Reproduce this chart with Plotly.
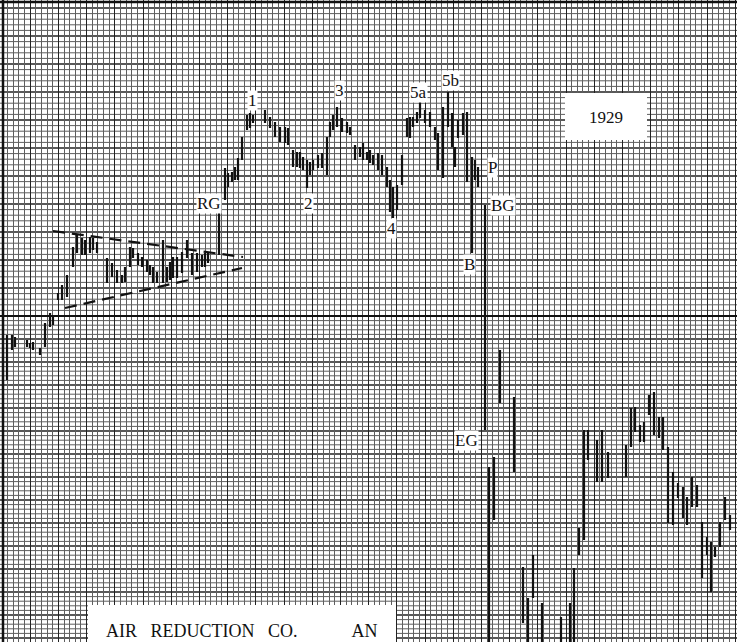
import plotly.graph_objects as go

# ---- data (x = day position on the sheet, values = height on the sheet's scale) ----
bar_x = [7, 12, 15, 27, 30, 33, 40, 45, 50, 53, 58, 62, 67, 73, 77, 82, 85, 90, 93, 97,
         107, 112, 117, 122, 125, 130, 133, 138, 142, 147, 150, 153, 157, 163, 167, 170, 173, 177,
         182, 187, 192, 197, 202, 205, 208, 219, 225, 228, 232, 235, 238, 242, 247, 250, 253,
         265, 270, 275, 280, 285, 288, 293, 297, 300, 303, 307, 310, 313, 318, 322, 327, 330,
         333, 337, 342, 347, 350, 355, 360, 363, 367, 370, 373, 378, 382, 387, 390, 393, 397,
         402, 407, 410, 413, 417, 420, 425, 430, 435, 438, 443, 448, 452, 455, 458, 463, 467,
         472, 475, 478, 485, 489, 494, 500, 514, 523, 528, 533, 542, 561, 570, 574, 579, 584,
         588, 597, 602, 608, 626, 631, 635, 640, 644, 649, 654, 659, 663, 668, 673, 678, 683,
         687, 692, 697, 702, 707, 711, 715, 720, 725, 730]
bar_high = [307, 307, 305, 302, 299, 300, 294, 319, 329, 327, 349, 357, 367, 395, 407, 404, 402, 405, 404, 400,
            384, 379, 372, 367, 375, 395, 394, 389, 385, 382, 377, 375, 370, 402, 375, 380, 385, 385,
            390, 402, 389, 389, 387, 389, 389, 429, 474, 469, 470, 475, 484, 505, 527, 529, 527,
            532, 525, 520, 515, 515, 514, 492, 490, 490, 485, 482, 480, 482, 487, 489, 505, 520,
            527, 535, 524, 520, 515, 497, 495, 499, 490, 492, 487, 489, 487, 475, 462, 455, 457,
            487, 524, 525, 525, 530, 540, 532, 530, 515, 509, 535, 550, 529, 495, 522, 529, 530,
            485, 482, 475, 437, 175, 185, 292, 245, 75, 44, 87, 39, 25, 39, 74, 114, 212,
            212, 202, 212, 190, 197, 234, 235, 217, 220, 247, 250, 225, 225, 195, 170, 159, 155,
            145, 165, 157, 120, 105, 100, 95, 120, 145, 127]
bar_low = [262, 292, 295, 295, 294, 292, 287, 295, 315, 317, 342, 342, 345, 375, 389, 387, 387, 389, 392, 389,
           359, 365, 359, 359, 360, 375, 384, 377, 375, 370, 367, 359, 359, 359, 360, 362, 364, 364,
           369, 384, 367, 370, 375, 375, 379, 387, 442, 455, 460, 462, 462, 482, 512, 514, 519,
           519, 514, 505, 500, 499, 497, 475, 475, 474, 472, 454, 467, 472, 474, 474, 467, 505,
           512, 515, 510, 509, 507, 482, 485, 482, 482, 479, 477, 472, 467, 455, 430, 424, 432,
           457, 505, 504, 515, 519, 524, 519, 515, 502, 472, 464, 515, 495, 475, 504, 507, 460,
           389, 462, 455, 212, -3, 122, 239, 170, 19, -3, 44, -3, -3, -3, -3, 87, 102,
           182, 160, 160, 164, 165, 195, 210, 200, 200, 227, 207, 204, 192, 119, 117, 144, 124,
           117, 135, 135, 64, 87, 50, 85, 95, 122, 112]

# triangle (dashed) trend lines
tri_upper_x = [53, 243]
tri_upper_y = [411, 385]
tri_lower_x = [65, 242]
tri_lower_y = [334, 374]

# wave labels
label_text = ["1", "2", "3", "4", "5a", "5b", "RG", "P", "BG", "B", "EG"]
label_x = [252, 308, 339, 391, 418, 450, 209, 492, 503, 469, 466]
label_y = [542, 439, 552, 414, 550, 562, 439, 475, 437, 378, 202]

year_text = "1929"
sp = "\u00a0"
title_text = "AIR" + sp * 3 + "REDUCTION" + sp * 3 + "CO." + sp * 12 + "AN"

# ---- figure ----
X0, X1, Y0, Y1 = 0, 737, 0, 642
FINE = "#5e5e5e"
HEAVY = "#222"
fig = go.Figure()

# grid paper: horizontal rules (sheet scale changes at the heavy rule)
SPLIT = 326
shapes = []
v = SPLIT
k = 0
while v < 641:
    heavy = (k % 5 == 0)
    shapes.append(dict(type="line", xref="paper", yref="y", x0=0, x1=1, y0=v, y1=v,
                       line=dict(color=HEAVY if heavy else FINE, width=1.4 if heavy else 1),
                       layer="below"))
    v += 5.6
    k += 1
v = SPLIT
k = 0
while v > -2:
    heavy = (k % 5 == 0)
    shapes.append(dict(type="line", xref="paper", yref="y", x0=0, x1=1, y0=v, y1=v,
                       line=dict(color=HEAVY if heavy else FINE, width=1.4 if heavy else 1),
                       layer="below"))
    v -= 4.6
    k += 1
# heavy rules
for hv, w in [(SPLIT, 2.2), (640, 2.5)]:
    shapes.append(dict(type="line", xref="paper", yref="y", x0=0, x1=1, y0=hv, y1=hv,
                       line=dict(color="#111", width=w)))
shapes.append(dict(type="line", xref="x", yref="paper", x0=3, x1=3, y0=0, y1=1,
                   line=dict(color="#111", width=2.5)))
# white label boxes
shapes.append(dict(type="rect", xref="x", yref="y", x0=565, x1=647, y0=502, y1=549,
                   fillcolor="white", line=dict(width=0)))
shapes.append(dict(type="rect", xref="x", yref="y", x0=88, x1=396, y0=-5, y1=37,
                   fillcolor="white", line=dict(width=0)))

# price bars
bx, by = [], []
for x, h, l in zip(bar_x, bar_high, bar_low):
    bx += [x, x, None]
    by += [l, h, None]
fig.add_trace(go.Scatter(x=bx, y=by, mode="lines", line=dict(color="#111", width=2.2),
                         hoverinfo="skip", showlegend=False))

for tx, ty in [(tri_upper_x, tri_upper_y), (tri_lower_x, tri_lower_y)]:
    fig.add_trace(go.Scatter(x=tx, y=ty, mode="lines",
                             line=dict(color="#111", width=2.2, dash="12px,7px"),
                             hoverinfo="skip", showlegend=False))

annotations = []
for t, x, y in zip(label_text, label_x, label_y):
    annotations.append(dict(x=x, y=y, text=t, showarrow=False, xref="x", yref="y",
                            font=dict(family="Liberation Serif", size=17, color="#111"),
                            bgcolor="white", borderpad=0))
annotations.append(dict(x=606, y=525, text=year_text, showarrow=False, xref="x", yref="y",
                        font=dict(family="Liberation Serif", size=17, color="#111")))
annotations.append(dict(x=104, y=11, text=title_text, showarrow=False, xref="x", yref="y",
                        xanchor="left", font=dict(family="Liberation Serif", size=18, color="#111")))

fig.update_layout(
    width=737, height=642, autosize=False,
    margin=dict(l=0, r=0, t=0, b=0),
    paper_bgcolor="white", plot_bgcolor="white",
    shapes=shapes, annotations=annotations,
    xaxis=dict(range=[X0, X1], showticklabels=False, zeroline=False, ticks="",
               showgrid=True, tick0=2, dtick=28.2, gridcolor=HEAVY, gridwidth=1.4,
               minor=dict(tick0=2, dtick=5.64, showgrid=True, gridcolor=FINE, gridwidth=1)),
    yaxis=dict(range=[Y0, Y1], showticklabels=False, zeroline=False, showgrid=False, ticks=""),
)

fig.write_html("out.html", config={"displayModeBar": False},
               post_script="document.body.style.margin='0';")
